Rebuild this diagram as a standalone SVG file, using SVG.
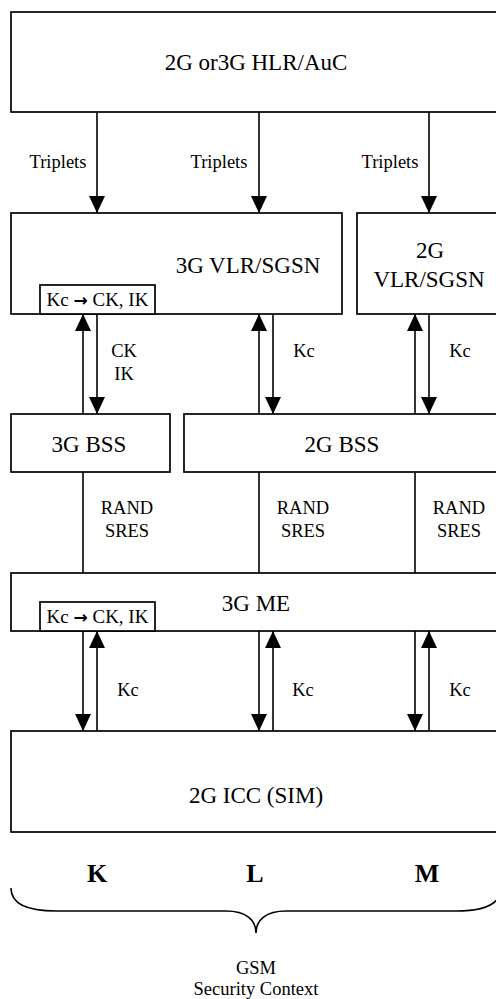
<svg xmlns="http://www.w3.org/2000/svg" width="496" height="999" viewBox="0 0 496 999" font-family="'Liberation Serif', 'Times New Roman', serif">
<style>
.box{fill:#fff;stroke:#000;stroke-width:1.7}
.ln{fill:none;stroke:#000;stroke-width:1.6}
.arr{fill:none;stroke:#000;stroke-width:1.6;marker-end:url(#ah)}
text{font-family:'Liberation Serif','Times New Roman',serif;fill:#000;text-anchor:middle}
.big{font-size:23px}
.sm{font-size:18.5px}
.kc{font-size:19px}
text .ar{font-family:'DejaVu Sans',sans-serif;font-weight:bold;font-size:17px}
.lt{font-size:26px;font-weight:bold}
</style>
<defs>
<marker id="ah" viewBox="0 0 17 16" refX="17" refY="8" markerWidth="17" markerHeight="16" markerUnits="userSpaceOnUse" orient="auto">
<path d="M0,0 L17,8 L0,16 z" fill="#000"/>
</marker>
</defs>
<g id="hlr">
<rect class="box" x="11" y="12" width="500" height="100"/>
<text class="big" x="256" y="70">2G or3G HLR/AuC</text>
</g>
<g id="vlr3g">
<rect class="box" x="11" y="213" width="331" height="101"/>
<text class="big" x="248" y="273">3G VLR/SGSN</text>
<rect class="box" x="40" y="285" width="115" height="29"/>
<text class="kc" x="97.5" y="306">Kc <tspan class="ar">→</tspan> CK, IK</text>
</g>
<g id="vlr2g">
<rect class="box" x="357" y="213" width="150" height="101"/>
<text class="big" x="430" y="258">2G</text>
<text class="big" x="429" y="287">VLR/SGSN</text>
</g>
<g id="bss3g">
<rect class="box" x="11" y="414" width="159" height="58"/>
<text class="big" x="89" y="452">3G BSS</text>
</g>
<g id="bss2g">
<rect class="box" x="184" y="414" width="330" height="58"/>
<text class="big" x="342" y="452">2G BSS</text>
</g>
<g id="me3g">
<rect class="box" x="11" y="573" width="500" height="58"/>
<text class="big" x="256" y="611">3G ME</text>
<rect class="box" x="40" y="602" width="115" height="29"/>
<text class="kc" x="97.5" y="623">Kc <tspan class="ar">→</tspan> CK, IK</text>
</g>
<g id="icc">
<rect class="box" x="11" y="731" width="500" height="101"/>
<text class="big" x="256" y="803">2G ICC (SIM)</text>
</g>
<g id="connectors">
<line class="arr" x1="97" y1="112" x2="97" y2="213"/>
<line class="arr" x1="259" y1="112" x2="259" y2="213"/>
<line class="arr" x1="429" y1="112" x2="429" y2="213"/>
<line class="arr" x1="83" y1="414" x2="83" y2="314"/>
<line class="arr" x1="97" y1="314" x2="97" y2="414"/>
<line class="arr" x1="259" y1="414" x2="259" y2="314"/>
<line class="arr" x1="273" y1="314" x2="273" y2="414"/>
<line class="arr" x1="415" y1="414" x2="415" y2="314"/>
<line class="arr" x1="429" y1="314" x2="429" y2="414"/>
<line class="ln" x1="83" y1="472" x2="83" y2="573"/>
<line class="ln" x1="259" y1="472" x2="259" y2="573"/>
<line class="ln" x1="415" y1="472" x2="415" y2="573"/>
<line class="arr" x1="83" y1="631" x2="83" y2="731"/>
<line class="arr" x1="97" y1="731" x2="97" y2="631"/>
<line class="arr" x1="259" y1="631" x2="259" y2="731"/>
<line class="arr" x1="273" y1="731" x2="273" y2="631"/>
<line class="arr" x1="415" y1="631" x2="415" y2="731"/>
<line class="arr" x1="429" y1="731" x2="429" y2="631"/>
</g>
<g id="labels">
<text class="sm" x="58" y="168">Triplets</text>
<text class="sm" x="219" y="168">Triplets</text>
<text class="sm" x="390" y="168">Triplets</text>
<text class="sm" x="124" y="357">CK</text>
<text class="sm" x="124" y="380">IK</text>
<text class="sm" x="304" y="357">Kc</text>
<text class="sm" x="460" y="357">Kc</text>
<text class="sm" x="127" y="514">RAND</text>
<text class="sm" x="127" y="537">SRES</text>
<text class="sm" x="303" y="514">RAND</text>
<text class="sm" x="303" y="537">SRES</text>
<text class="sm" x="459" y="514">RAND</text>
<text class="sm" x="459" y="537">SRES</text>
<text class="sm" x="128" y="696">Kc</text>
<text class="sm" x="303" y="696">Kc</text>
<text class="sm" x="460" y="696">Kc</text>
</g>
<g id="context">
<text class="lt" x="97" y="882">K</text>
<text class="lt" x="255" y="882">L</text>
<text class="lt" x="427" y="882">M</text>
<path class="ln" d="M11,888 C11,904 28,911 56,911 L226,911 C246,911 256,920 256,933 C256,920 266,911 286,911 L456,911 C484,911 501,904 501,888"/>
<text class="sm" x="256" y="974">GSM</text>
<text class="sm" x="256" y="995">Security Context</text>
</g>
</svg>
